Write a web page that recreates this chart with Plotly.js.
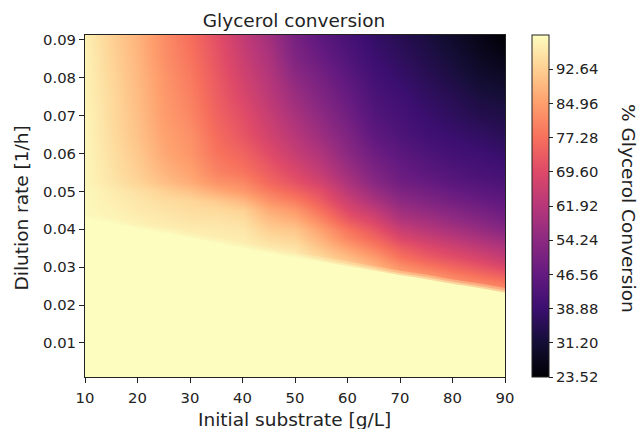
<!DOCTYPE html>
<html><head><meta charset="utf-8">
<script src="https://cdn.plot.ly/plotly-3.0.1.min.js"></script>
<style>html,body{margin:0;padding:0;background:#fff}#chart{width:639px;height:429px}</style>
</head><body><div id="chart"></div>
<script>
// Initial substrate [g/L] (columns)
const substrate = [10,15,20,25,30,35,40,45,50,55,60,65,70,75,80,85,90];
// Dilution rate [1/h] (rows)
const dilution = [0.001,0.01,0.02,0.0225,0.025,0.0275,0.03,0.0325,0.035,0.0375,0.04,0.0425,0.045,0.0475,0.05,0.0525,0.055,0.06,0.065,0.07,0.075,0.08,0.085,0.091];
// Critical dilution rate (edge of the full-conversion region) per substrate
const critDilution = [0.0430,0.0418,0.0405,0.0392,0.0379,0.0365,0.0352,0.0339,0.0326,0.0315,0.0303,0.0291,0.0279,0.0268,0.0256,0.0245,0.0233];
// % Glycerol conversion, one row per dilution rate
const d0010 = [100,100,100,100,100,100,100,100,100,100,100,100,100,100,100,100,100];
const d0100 = [100,100,100,100,100,100,100,100,100,100,100,100,100,100,100,100,100];
const d0200 = [100,100,100,100,100,100,100,100,100,100,100,100,100,100,100,100,100];
const d0225 = [100,100,100,100,100,100,100,100,100,100,100,100,100,100,100,86,83];
const d0250 = [100,100,100,100,100,100,100,100,100,100,100,100,100,88,84,83,80];
const d0275 = [100,100,100,100,100,100,100,100,100,100,96,92,87,85,81,78,75];
const d0300 = [100,100,100,100,100,100,100,100,99,96,93,89,83,79,75.5,72.5,69];
const d0325 = [100,100,100,100,100,100,100,98,98,94.5,90,85,78,74,71,68,64.5];
const d0350 = [100,100,100,100,100,98.5,98,97,96,91,85.5,80,74,70,67,64,61];
const d0375 = [100,100,100,98.5,98,98,97.5,95,93.5,88,81,76,69.5,66,63,60,57];
const d0400 = [100,99,98,98,97.5,97,96.5,92.5,91,85,77.5,72,65,62,59,56,53];
const d0425 = [99.5,99,98,97,96,96,95,90,87.5,81,73,68,61,58.5,55.5,53,50];
const d0450 = [99.5,98.5,97,96,95,94.5,93,87,84,77,69,64,57.5,55,52.5,50,47.5];
const d0475 = [99.5,98,96.5,95,94,92,89,83,79.5,73.5,66,60,54.5,52,49.5,47.5,45.5];
const d0500 = [99.5,97.5,95.5,93,90.5,87,84,79,75,70.5,62.5,56.5,51.5,49.5,47,45,43.5];
const d0525 = [99,96.5,93.5,90,87,83,81,75.5,71.5,67,60,53.5,49,47,44.5,43,42];
const d0550 = [99,96,92.5,88.5,85.5,80.5,78,73.5,69,64,57.5,51.5,47.5,45,43,41.5,40.5];
const d0600 = [99,95.5,91.5,86.5,83.5,78,75,70,65,60.5,54,48.5,45,42.5,40.5,39.5,38];
const d0650 = [99,95,90.5,85.5,82.5,76.5,72,67,62,57,51.5,45.5,42.5,40,38.5,37,35.5];
const d0700 = [99,94.5,90,84.5,81,75,70.5,65,59.5,54.5,49,43.5,41,38.5,36.5,34.5,33.5];
const d0750 = [98.5,94.5,89.5,84,80,74,68.5,63,57,52,47,42,39.5,37,35,32.5,31.5];
const d0800 = [98.5,94,89,83.5,79,73,67,61.5,54.5,50,45,40.5,38,35.5,33,30.5,29];
const d0850 = [98.5,93.5,88.5,82.5,78,72,65.5,60,52,47.5,43,39,36.5,34,31.5,28.5,26.5];
const d0910 = [98,93,88,82,77,71,64,58,50,45,41,37.5,35,32.5,29.5,26.5,23.5];

const xTicks = [10,20,30,40,50,60,70,80,90];
const yTicks = [0.01,0.02,0.03,0.04,0.05,0.06,0.07,0.08,0.09];
const cbTicks = [23.52,31.20,38.88,46.56,54.24,61.92,69.60,77.28,84.96,92.64];
const zMin = 23.52, zMax = 100.32;

const z = [d0010,d0100,d0200,d0225,d0250,d0275,d0300,d0325,d0350,d0375,d0400,d0425,d0450,d0475,d0500,d0525,d0550,d0600,d0650,d0700,d0750,d0800,d0850,d0910];

const magma = [
  [0.0,'#000004'],[0.1,'#140e36'],[0.2,'#3b0f70'],[0.3,'#641a80'],[0.4,'#8c2981'],
  [0.5,'#b73779'],[0.6,'#de4968'],[0.7,'#f7705c'],[0.8,'#fe9f6d'],[0.9,'#fecf92'],[1.0,'#fcfdbf']
];
const fullColor = '#fcfdbf';

const ink = '#222';
const heat = {
  type:'heatmap', x:substrate, y:dilution, z:z, zsmooth:'best',
  colorscale:magma, zmin:zMin, zmax:zMax, hoverinfo:'skip',
  colorbar:{
    x:(532-85)/420, xanchor:'left', xpad:0, y:0.5, yanchor:'middle', ypad:0,
    len:1, lenmode:'fraction', thickness:17, thicknessmode:'pixels',
    outlinewidth:1, outlinecolor:ink,
    tickmode:'array', tickvals:cbTicks, ticktext:cbTicks.map(v=>v.toFixed(2)),
    ticks:'outside', ticklen:4, tickwidth:1, tickcolor:ink,
    tickfont:{family:'DejaVu Sans', size:14.8, color:ink}
  }
};
// full-conversion region below the critical dilution rate
const fullRegion = {
  type:'scatter', mode:'lines', x:substrate, y:critDilution, fill:'tozeroy',
  fillcolor:fullColor, line:{color:'rgba(252,253,191,0.45)', width:4, shape:'spline', smoothing:0.6},
  hoverinfo:'skip', showlegend:false
};
// soft fringe along the edge of that region
const edgeFringe = {
  type:'scatter', mode:'lines', x:substrate, y:critDilution,
  line:{color:'rgba(252,253,191,0.3)', width:9, shape:'spline', smoothing:0.6},
  hoverinfo:'skip', showlegend:false
};

const axisCommon = {
  ticks:'outside', ticklen:5, tickwidth:1, tickcolor:ink,
  showline:true, mirror:true, linecolor:ink, linewidth:1,
  showgrid:false, zeroline:false, fixedrange:true,
  tickfont:{family:'DejaVu Sans', size:14.8, color:ink}
};

const layout = {
  width:639, height:429,
  margin:{l:85, r:134, t:35, b:52, pad:0},
  paper_bgcolor:'#fff', plot_bgcolor:'#fff',
  font:{family:'DejaVu Sans', color:ink, size:14.8},
  showlegend:false,
  title:{text:'Glycerol conversion', font:{family:'DejaVu Sans', size:18.5, color:ink},
         xref:'container', x:294/639, xanchor:'center', yref:'container', y:1-20.5/429, yanchor:'middle'},
  xaxis:Object.assign({}, axisCommon, {range:[10,90], tickmode:'array', tickvals:xTicks, ticktext:xTicks.map(String), ticklabelstandoff:2}),
  yaxis:Object.assign({}, axisCommon, {range:[0.001,0.0913], tickmode:'array', tickvals:yTicks, ticktext:yTicks.map(v=>v.toFixed(2))}),
  annotations:[
    {text:'Initial substrate [g/L]', xref:'paper', yref:'paper', x:(294-85)/420, y:(377-419)/342,
     xanchor:'center', yanchor:'middle', showarrow:false, font:{family:'DejaVu Sans', size:18.5, color:ink}},
    {text:'Dilution rate [1/h]', xref:'paper', yref:'paper', x:(21-85)/420, y:(377-208.5)/342, textangle:-90,
     xanchor:'center', yanchor:'middle', showarrow:false, font:{family:'DejaVu Sans', size:18.5, color:ink}},
    {text:'% Glycerol Conversion', xref:'paper', yref:'paper', x:(628-85)/420, y:(377-208)/342, textangle:90,
     xanchor:'center', yanchor:'middle', showarrow:false, font:{family:'DejaVu Sans', size:18.5, color:ink}}
  ]
};

Plotly.newPlot('chart', [heat, edgeFringe, fullRegion], layout, {displayModeBar:false, staticPlot:true});
</script>
</body></html>
